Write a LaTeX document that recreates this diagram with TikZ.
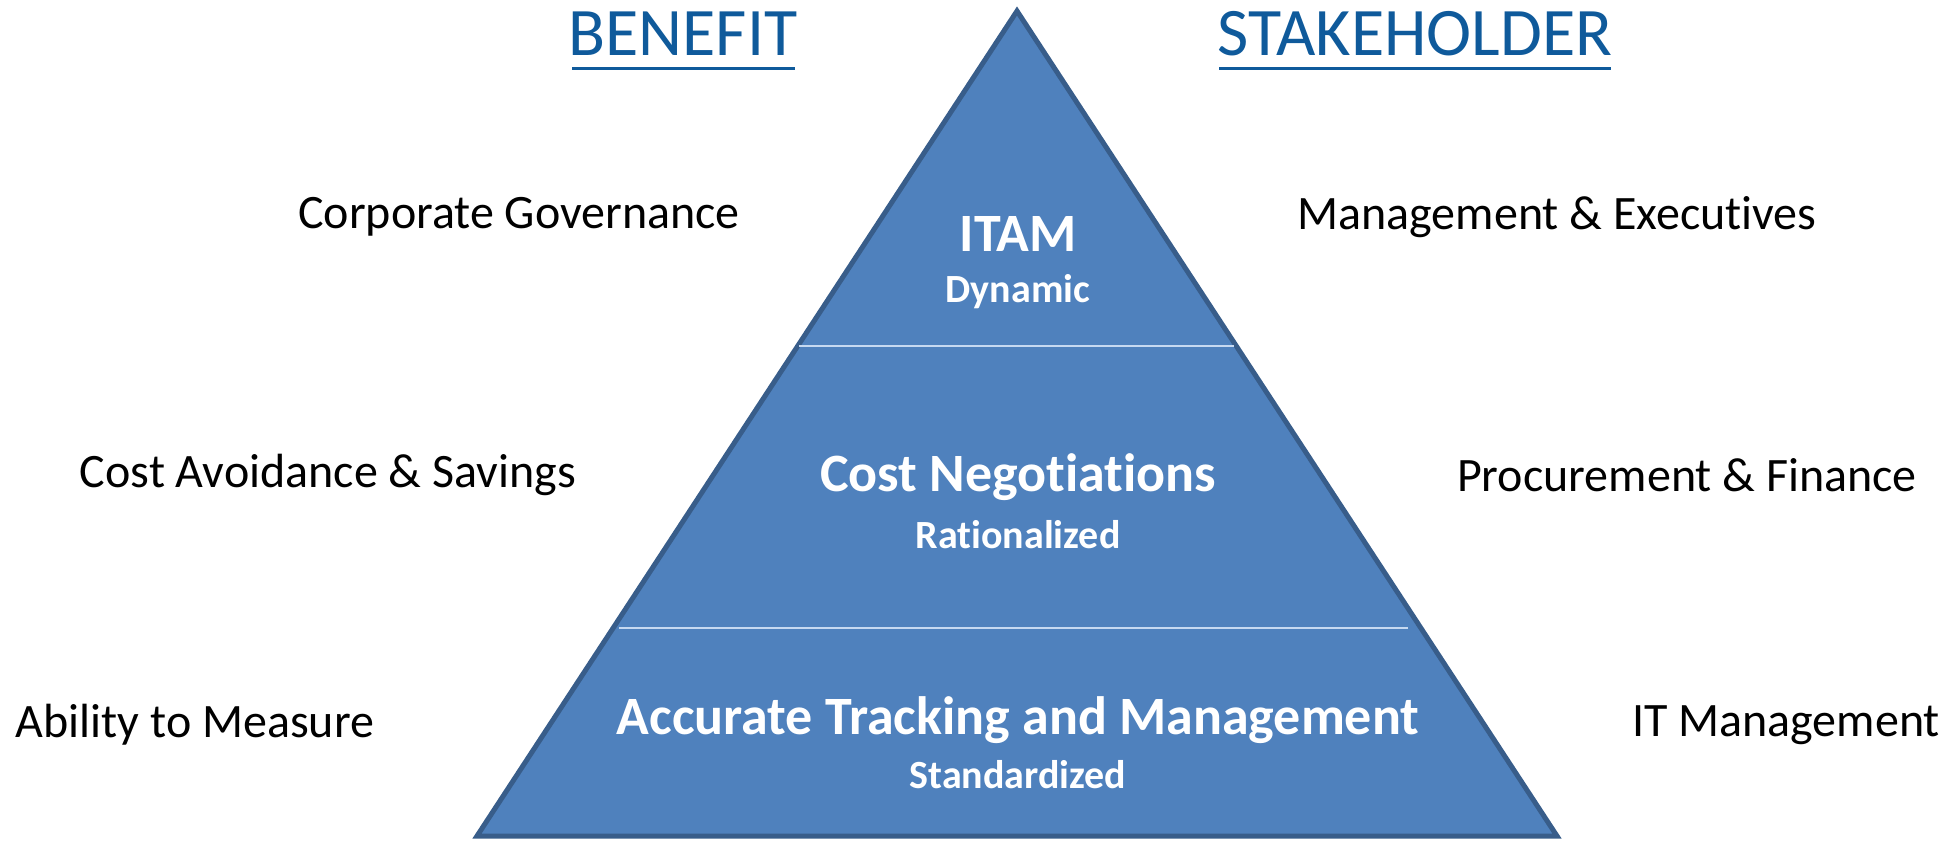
\documentclass[tikz,border=0pt]{standalone}
\usepackage{fontspec}
\setmainfont[Ligatures=NoCommon]{Carlito}
\definecolor{pyfill}{HTML}{4F81BD}
\definecolor{pyedge}{HTML}{385D8A}
\definecolor{headblue}{HTML}{0F5A9B}
\definecolor{divline}{HTML}{C6D9F1}
\tikzset{
  sidelabel/.style={inner sep=0pt, anchor=center, font=\fontsize{48}{58}\selectfont, text=black},
  header/.style={inner sep=0pt, anchor=base, font=\fontsize{68}{80}\selectfont, text=headblue},
  maintext/.style={inner sep=0pt, anchor=center, font=\fontsize{54}{64}\selectfont\bfseries, text=white},
  subtext/.style={inner sep=0pt, anchor=center, font=\fontsize{40}{48}\selectfont\bfseries, text=white},
  divider/.style={draw=divline, line width=2.2pt},
  uline/.style={draw=headblue, line width=3pt}
}
\begin{document}
\begin{tikzpicture}[x=1pt,y=-1pt]
\useasboundingbox (0,0) rectangle (1954,841);
% pyramid
\coordinate (A) at (1017,11);
\coordinate (L) at (477,836);
\coordinate (R) at (1557,836);
\draw[fill=pyfill, draw=pyedge, line width=5pt] (A) -- (L) -- (R) -- cycle;
\coordinate (d1l) at (799,346);
\coordinate (d1r) at (1234,346);
\coordinate (d2l) at (619,628);
\coordinate (d2r) at (1408,628);
\draw[divider] (d1l) -- (d1r);
\draw[divider] (d2l) -- (d2r);
% headers
\node[header] (benefit) at (683,55) {BENEFIT};
\node[header] (stake) at (1415,55) {STAKEHOLDER};
\coordinate (u1l) at (572,68);
\coordinate (u1r) at (795,68);
\coordinate (u2l) at (1219,68);
\coordinate (u2r) at (1611,68);
\draw[uline] (u1l) -- (u1r);
\draw[uline] (u2l) -- (u2r);
% inner text
\node[maintext] (itam) at (1018,234) {ITAM};
\node[subtext] (dyn) at (1018,292) {Dynamic};
\node[maintext] (cost) at (1018,477) {Cost Negotiations};
\node[subtext] (rat) at (1018,535) {Rationalized};
\node[maintext] (acc) at (1018,720) {Accurate Tracking and Management};
\node[subtext] (std) at (1018,775) {Standardized};
% side labels
\node[sidelabel] (cg) at (519,217) {Corporate Governance};
\node[sidelabel] (cas) at (328,475) {Cost Avoidance \& Savings};
\node[sidelabel] (atm) at (195,725) {Ability to Measure};
\node[sidelabel] (me) at (1557,217) {Management \& Executives};
\node[sidelabel] (pf) at (1687,475) {Procurement \& Finance};
\node[sidelabel] (itm) at (1786,725) {IT Management};
\end{tikzpicture}
\end{document}
